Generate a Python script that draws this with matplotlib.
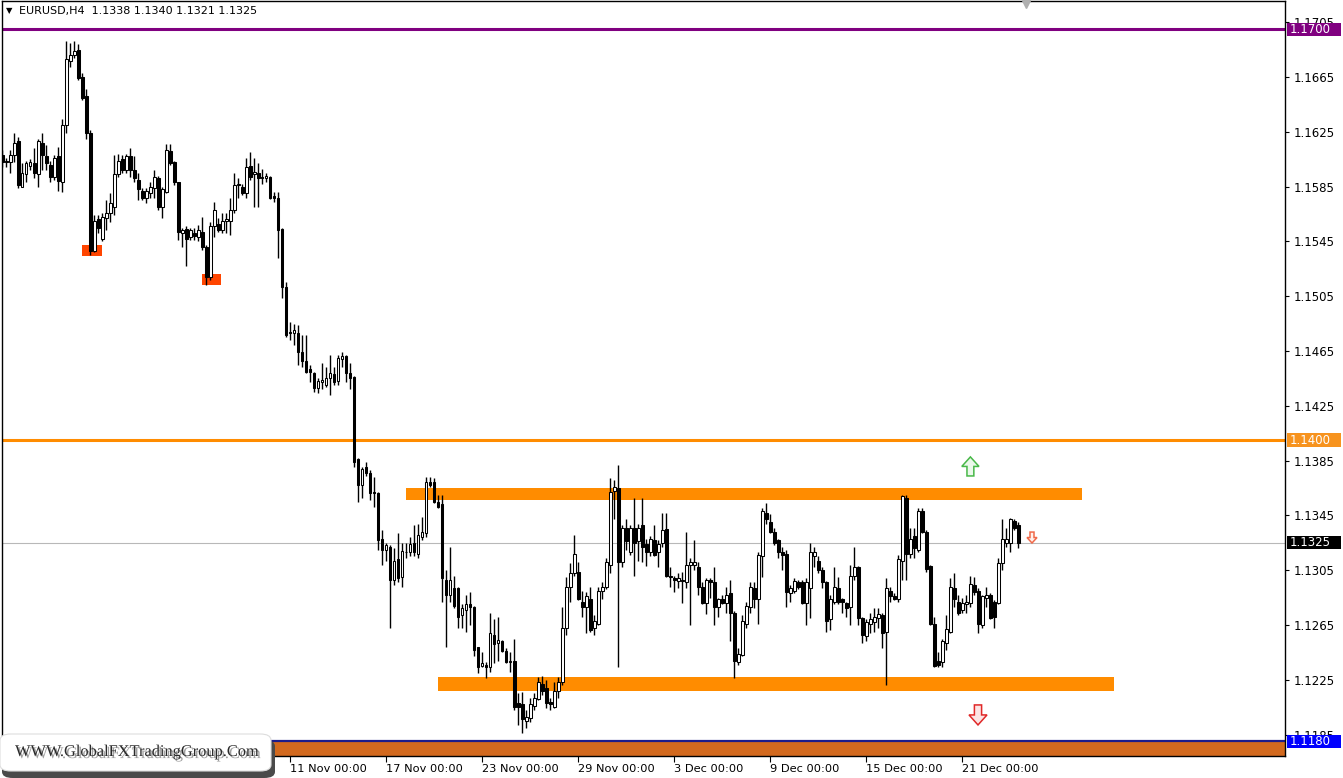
import numpy as np
import matplotlib
matplotlib.use("Agg")
import matplotlib.pyplot as plt
import matplotlib.transforms as mtransforms
import matplotlib.patheffects as pe
from matplotlib.patches import Rectangle, FancyBboxPatch, Polygon

plt.rcParams["font.family"] = ["DejaVu Sans"]

# EURUSD H4 candles
opens = [
    1.1608, 1.1604, 1.1603, 1.1608, 1.1618, 1.1585, 1.1594, 1.1600, 1.1602, 1.1594,
    1.1617, 1.1607, 1.1601, 1.1592, 1.1607, 1.1588, 1.1630, 1.1677, 1.1681, 1.1685,
    1.1665, 1.1651, 1.1624, 1.1538, 1.1561, 1.1547, 1.1562, 1.1566, 1.1570, 1.1594,
    1.1605, 1.1597, 1.1607, 1.1597, 1.1590, 1.1582, 1.1577, 1.1580, 1.1584, 1.1591,
    1.1570, 1.1581, 1.1611, 1.1603, 1.1588, 1.1551, 1.1554, 1.1548, 1.1551, 1.1548,
    1.1552, 1.1541, 1.1519, 1.1556, 1.1558, 1.1553, 1.1560, 1.1560, 1.1568, 1.1586,
    1.1585, 1.1580, 1.1600, 1.1594, 1.1595, 1.1592, 1.1591, 1.1592, 1.1578, 1.1577,
    1.1554, 1.1512, 1.1479, 1.1478, 1.1478, 1.1464, 1.1458, 1.1452, 1.1449, 1.1438,
    1.1442, 1.1440, 1.1445, 1.1448, 1.1443, 1.1459, 1.1461, 1.1449, 1.1446, 1.1386,
    1.1367, 1.1380, 1.1376, 1.1362, 1.1361, 1.1328, 1.1320, 1.1322, 1.1298, 1.1313,
    1.1300, 1.1318, 1.1318, 1.1325, 1.1317, 1.1329, 1.1332, 1.1369, 1.1369, 1.1355,
    1.1353, 1.1298, 1.1287, 1.1292, 1.1292, 1.1272, 1.1276, 1.1280, 1.1278, 1.1249,
    1.1235, 1.1236, 1.1234, 1.1258, 1.1252, 1.1253, 1.1246, 1.1238, 1.1239, 1.1208,
    1.1207, 1.1195, 1.1197, 1.1206, 1.1211, 1.1222, 1.1219, 1.1209, 1.1205, 1.1217,
    1.1223, 1.1263, 1.1293, 1.1303, 1.1304, 1.1282, 1.1278, 1.1284, 1.1263, 1.1266,
    1.1290, 1.1293, 1.1309, 1.1363, 1.1365, 1.1311, 1.1336, 1.1318, 1.1336, 1.1326,
    1.1338, 1.1324, 1.1318, 1.1327, 1.1318, 1.1325, 1.1335, 1.1301, 1.1299, 1.1297,
    1.1298, 1.1296, 1.1309, 1.1309, 1.1307, 1.1293, 1.1281, 1.1298, 1.1296, 1.1278,
    1.1284, 1.1281, 1.1288, 1.1274, 1.1238, 1.1243, 1.1266, 1.1278, 1.1292, 1.1284,
    1.1315, 1.1347, 1.1340, 1.1333, 1.1327, 1.1318, 1.1317, 1.1288, 1.1290, 1.1296,
    1.1296, 1.1281, 1.1292, 1.1315, 1.1312, 1.1305, 1.1296, 1.1269, 1.1282, 1.1292,
    1.1284, 1.1281, 1.1278, 1.1301, 1.1307, 1.1270, 1.1257, 1.1266, 1.1267, 1.1270,
    1.1272, 1.1260, 1.1290, 1.1286, 1.1284, 1.1312, 1.1358, 1.1317, 1.1330, 1.1320,
    1.1348, 1.1333, 1.1308, 1.1266, 1.1239, 1.1238, 1.1252, 1.1260, 1.1292, 1.1282,
    1.1276, 1.1280, 1.1281, 1.1294, 1.1290, 1.1265, 1.1285, 1.1287, 1.1282, 1.1281,
    1.1310, 1.1325, 1.1325, 1.1341, 1.1338,
]
highs = [
    1.1612, 1.1606, 1.1612, 1.1624, 1.1621, 1.1602, 1.1604, 1.1605, 1.1613, 1.1620,
    1.1624, 1.1615, 1.1604, 1.1608, 1.1614, 1.1634, 1.1691, 1.1690, 1.1691, 1.1689,
    1.1668, 1.1656, 1.1626, 1.1564, 1.1564, 1.1566, 1.1575, 1.1580, 1.1608, 1.1609,
    1.1608, 1.1609, 1.1613, 1.1607, 1.1595, 1.1584, 1.1584, 1.1588, 1.1597, 1.1593,
    1.1585, 1.1616, 1.1616, 1.1604, 1.1588, 1.1555, 1.1556, 1.1555, 1.1555, 1.1557,
    1.1563, 1.1542, 1.1559, 1.1574, 1.1562, 1.1566, 1.1566, 1.1577, 1.1595, 1.1591,
    1.1587, 1.1606, 1.1610, 1.1606, 1.1602, 1.1598, 1.1595, 1.1593, 1.1581, 1.1581,
    1.1555, 1.1515, 1.1486, 1.1485, 1.1484, 1.1477, 1.1477, 1.1455, 1.1450, 1.1445,
    1.1456, 1.1453, 1.1462, 1.1453, 1.1462, 1.1464, 1.1462, 1.1456, 1.1447, 1.1387,
    1.1380, 1.1384, 1.1378, 1.1373, 1.1362, 1.1334, 1.1325, 1.1323, 1.1321, 1.1332,
    1.1325, 1.1325, 1.1329, 1.1338, 1.1339, 1.1344, 1.1373, 1.1373, 1.1372, 1.1360,
    1.1360, 1.1305, 1.1322, 1.1301, 1.1293, 1.1280, 1.1287, 1.1289, 1.1279, 1.1249,
    1.1245, 1.1238, 1.1274, 1.1269, 1.1271, 1.1254, 1.1248, 1.1245, 1.1255, 1.1215,
    1.1216, 1.1203, 1.1212, 1.1215, 1.1227, 1.1228, 1.1225, 1.1212, 1.1223, 1.1227,
    1.1278, 1.1300, 1.1310, 1.1331, 1.1311, 1.1290, 1.1289, 1.1293, 1.1272, 1.1293,
    1.1296, 1.1314, 1.1372, 1.1371, 1.1382, 1.1338, 1.1342, 1.1338, 1.1358, 1.1339,
    1.1358, 1.1328, 1.1330, 1.1338, 1.1327, 1.1347, 1.1347, 1.1307, 1.1301, 1.1303,
    1.1304, 1.1333, 1.1314, 1.1327, 1.1311, 1.1296, 1.1299, 1.1299, 1.1307, 1.1285,
    1.1287, 1.1293, 1.1298, 1.1275, 1.1248, 1.1272, 1.1282, 1.1296, 1.1296, 1.1318,
    1.1350, 1.1354, 1.1346, 1.1336, 1.1328, 1.1322, 1.1320, 1.1294, 1.1299, 1.1298,
    1.1298, 1.1299, 1.1325, 1.1322, 1.1315, 1.1307, 1.1297, 1.1287, 1.1307, 1.1300,
    1.1285, 1.1282, 1.1309, 1.1322, 1.1308, 1.1271, 1.1269, 1.1274, 1.1277, 1.1277,
    1.1274, 1.1299, 1.1293, 1.1288, 1.1316, 1.1360, 1.1360, 1.1336, 1.1336, 1.1350,
    1.1350, 1.1334, 1.1309, 1.1271, 1.1245, 1.1255, 1.1272, 1.1299, 1.1303, 1.1287,
    1.1285, 1.1287, 1.1301, 1.1300, 1.1292, 1.1287, 1.1293, 1.1288, 1.1283, 1.1314,
    1.1342, 1.1336, 1.1343, 1.1342, 1.1340,
]
lows = [
    1.1599, 1.1599, 1.1595, 1.1603, 1.1584, 1.1585, 1.1588, 1.1597, 1.1591, 1.1585,
    1.1597, 1.1597, 1.1588, 1.1590, 1.1582, 1.1581, 1.1624, 1.1672, 1.1679, 1.1663,
    1.1648, 1.1620, 1.1535, 1.1537, 1.1551, 1.1545, 1.1553, 1.1559, 1.1564, 1.1592,
    1.1595, 1.1595, 1.1592, 1.1588, 1.1575, 1.1575, 1.1573, 1.1577, 1.1577, 1.1568,
    1.1562, 1.1580, 1.1601, 1.1586, 1.1546, 1.1541, 1.1527, 1.1546, 1.1546, 1.1545,
    1.1539, 1.1513, 1.1517, 1.1548, 1.1552, 1.1551, 1.1551, 1.1550, 1.1566, 1.1577,
    1.1579, 1.1577, 1.1590, 1.1570, 1.1570, 1.1587, 1.1588, 1.1576, 1.1574, 1.1533,
    1.1504, 1.1475, 1.1473, 1.1469, 1.1455, 1.1453, 1.1449, 1.1442, 1.1435, 1.1434,
    1.1437, 1.1439, 1.1433, 1.1440, 1.1440, 1.1453, 1.1442, 1.1437, 1.1380, 1.1355,
    1.1358, 1.1374, 1.1356, 1.1351, 1.1320, 1.1309, 1.1312, 1.1263, 1.1294, 1.1296,
    1.1293, 1.1314, 1.1315, 1.1315, 1.1314, 1.1327, 1.1329, 1.1366, 1.1354, 1.1350,
    1.1282, 1.1249, 1.1282, 1.1277, 1.1263, 1.1263, 1.1260, 1.1265, 1.1242, 1.1230,
    1.1234, 1.1226, 1.1231, 1.1237, 1.1239, 1.1245, 1.1237, 1.1231, 1.1203, 1.1192,
    1.1186, 1.1190, 1.1194, 1.1203, 1.1210, 1.1214, 1.1204, 1.1203, 1.1204, 1.1212,
    1.1221, 1.1258, 1.1282, 1.1301, 1.1283, 1.1271, 1.1259, 1.1260, 1.1258, 1.1265,
    1.1284, 1.1291, 1.1303, 1.1342, 1.1234, 1.1307, 1.1320, 1.1316, 1.1301, 1.1312,
    1.1311, 1.1308, 1.1315, 1.1315, 1.1307, 1.1322, 1.1300, 1.1293, 1.1289, 1.1292,
    1.1281, 1.1292, 1.1265, 1.1305, 1.1287, 1.1280, 1.1273, 1.1285, 1.1265, 1.1271,
    1.1280, 1.1274, 1.1253, 1.1226, 1.1236, 1.1242, 1.1263, 1.1274, 1.1277, 1.1266,
    1.1300, 1.1339, 1.1332, 1.1323, 1.1314, 1.1305, 1.1278, 1.1282, 1.1288, 1.1291,
    1.1280, 1.1265, 1.1270, 1.1307, 1.1303, 1.1292, 1.1260, 1.1261, 1.1280, 1.1280,
    1.1274, 1.1271, 1.1265, 1.1298, 1.1265, 1.1252, 1.1253, 1.1259, 1.1260, 1.1263,
    1.1248, 1.1221, 1.1282, 1.1283, 1.1282, 1.1298, 1.1298, 1.1314, 1.1314, 1.1318,
    1.1332, 1.1304, 1.1265, 1.1234, 1.1234, 1.1234, 1.1247, 1.1259, 1.1278, 1.1272,
    1.1274, 1.1274, 1.1278, 1.1287, 1.1259, 1.1263, 1.1278, 1.1269, 1.1263, 1.1280,
    1.1305, 1.1322, 1.1318, 1.1334, 1.1321,
]
closes = [
    1.1603, 1.1603, 1.1608, 1.1617, 1.1586, 1.1595, 1.1602, 1.1603, 1.1595, 1.1618,
    1.1608, 1.1602, 1.1592, 1.1606, 1.1589, 1.1630, 1.1678, 1.1681, 1.1684, 1.1664,
    1.1650, 1.1624, 1.1538, 1.1560, 1.1555, 1.1563, 1.1566, 1.1573, 1.1594, 1.1604,
    1.1597, 1.1607, 1.1597, 1.1591, 1.1583, 1.1577, 1.1582, 1.1585, 1.1592, 1.1570,
    1.1583, 1.1612, 1.1602, 1.1588, 1.1552, 1.1553, 1.1547, 1.1553, 1.1549, 1.1553,
    1.1541, 1.1519, 1.1556, 1.1568, 1.1553, 1.1560, 1.1561, 1.1568, 1.1586, 1.1587,
    1.1580, 1.1599, 1.1592, 1.1596, 1.1591, 1.1591, 1.1593, 1.1577, 1.1577, 1.1553,
    1.1512, 1.1477, 1.1478, 1.1480, 1.1464, 1.1458, 1.1450, 1.1450, 1.1438, 1.1443,
    1.1444, 1.1445, 1.1449, 1.1442, 1.1460, 1.1461, 1.1449, 1.1445, 1.1384, 1.1367,
    1.1379, 1.1376, 1.1361, 1.1361, 1.1327, 1.1320, 1.1323, 1.1298, 1.1312, 1.1299,
    1.1319, 1.1318, 1.1324, 1.1318, 1.1331, 1.1333, 1.1369, 1.1367, 1.1355, 1.1351,
    1.1299, 1.1287, 1.1298, 1.1279, 1.1271, 1.1277, 1.1280, 1.1278, 1.1247, 1.1234,
    1.1237, 1.1234, 1.1259, 1.1251, 1.1254, 1.1246, 1.1238, 1.1239, 1.1205, 1.1205,
    1.1196, 1.1198, 1.1207, 1.1212, 1.1223, 1.1217, 1.1208, 1.1207, 1.1217, 1.1223,
    1.1263, 1.1293, 1.1303, 1.1317, 1.1284, 1.1278, 1.1286, 1.1261, 1.1268, 1.1290,
    1.1293, 1.1311, 1.1362, 1.1366, 1.1311, 1.1336, 1.1326, 1.1336, 1.1325, 1.1336,
    1.1322, 1.1318, 1.1328, 1.1316, 1.1324, 1.1334, 1.1301, 1.1300, 1.1298, 1.1299,
    1.1297, 1.1309, 1.1311, 1.1311, 1.1293, 1.1281, 1.1298, 1.1296, 1.1278, 1.1284,
    1.1281, 1.1287, 1.1274, 1.1239, 1.1244, 1.1268, 1.1279, 1.1293, 1.1284, 1.1316,
    1.1348, 1.1342, 1.1333, 1.1325, 1.1318, 1.1316, 1.1289, 1.1292, 1.1297, 1.1293,
    1.1281, 1.1296, 1.1318, 1.1318, 1.1305, 1.1296, 1.1268, 1.1284, 1.1293, 1.1282,
    1.1282, 1.1277, 1.1301, 1.1307, 1.1270, 1.1258, 1.1267, 1.1269, 1.1271, 1.1273,
    1.1259, 1.1292, 1.1286, 1.1284, 1.1313, 1.1359, 1.1317, 1.1328, 1.1321, 1.1348,
    1.1333, 1.1306, 1.1266, 1.1235, 1.1236, 1.1253, 1.1262, 1.1293, 1.1284, 1.1274,
    1.1281, 1.1282, 1.1295, 1.1289, 1.1266, 1.1286, 1.1287, 1.1270, 1.1271, 1.1310,
    1.1328, 1.1328, 1.1342, 1.1336, 1.1325,
]

# time axis labels (bar index -> label)
time_ticks = [72, 96, 120, 144, 168, 192, 216, 240]
time_labels = ["11 Nov 00:00", "17 Nov 00:00", "23 Nov 00:00", "29 Nov 00:00",
               "3 Dec 00:00", "9 Dec 00:00", "15 Dec 00:00", "21 Dec 00:00"]
price_ticks = [1.1185, 1.1225, 1.1265, 1.1305, 1.1345, 1.1385, 1.1425,
               1.1465, 1.1505, 1.1545, 1.1585, 1.1625, 1.1665, 1.1705]

# horizontal levels: (price, line colour, label box colour)
levels = [(1.1700, "#800080", "#800080"),
          (1.1400, "#FF8C00", "#F7931E"),
          (1.1180, "#1C1C8A", "#0000FF")]
last_price = 1.1325
# range zones: (bar from, bar to, price low, price high)
range_zones = [(100.9, 269.9, 1.1356, 1.1365),
               (108.9, 277.9, 1.1217, 1.1227)]
swing_marks = [(19.9, 24.9, 1.1534, 1.1542),
               (49.9, 54.7, 1.1513, 1.1521)]
# signal arrows: (bar, price, direction, width in bars, height in price, edge, face)
signal_arrows = [(242.0, 1.13807, 1, 4.3, 0.00139, "#48B848", "#EAF8EA"),
                 (243.9, 1.11993, -1, 4.5, 0.00146, "#E02828", "#FCE4E4"),
                 (257.4, 1.13288, -1, 2.5, 0.00080, "#F06A4A", "#FFF0EC")]

W, H = 1343, 778
fig = plt.figure(figsize=(W / 100, H / 100), dpi=100)
ax = fig.add_axes([2 / W, 22 / H, 1283 / W, 755 / H])

y_top = 1.17212 - 0.000073 * 1
y_bot = 1.17212 - 0.000073 * 756
ax.set_xlim(-0.1, -0.1 + 1283 / 4)
ax.set_ylim(y_bot, y_top)

o = np.array(opens)
h = np.array(highs)
l = np.array(lows)
c = np.array(closes)
idx = np.arange(len(o))
h = np.maximum(h, np.maximum(o, c))
l = np.minimum(l, np.minimum(o, c))

# background levels and zones
ax.axhspan(y_bot, 1.1180, color="#D2691E", lw=0, zorder=1)
for price, lc, _ in levels:
    ax.axhline(price, color=lc, lw=2.2 if price != 1.1180 else 1.6, zorder=1.5)
ax.axhline(last_price, color="#B8B8B8", lw=0.8, zorder=1.5)
for x0, x1, p0, p1 in range_zones:
    ax.add_patch(Rectangle((x0, p0), x1 - x0, p1 - p0, color="#FF8C00", lw=0, zorder=2))
for x0, x1, p0, p1 in swing_marks:
    ax.add_patch(Rectangle((x0, p0), x1 - x0, p1 - p0, color="#FF4500", lw=0, zorder=2))

# candles
ax.vlines(idx, l, h, color="black", lw=1.0, zorder=3)
body_lo = np.minimum(o, c)
body_h = np.abs(c - o)
faces = np.where(c >= o, "white", "black")
ax.bar(idx, body_h, bottom=body_lo, width=0.55, color=faces,
       edgecolor="black", linewidth=0.75, zorder=4)

# hollow block arrows
shape = [(0, 0.5), (0.5, 0.0), (0.2, 0.0), (0.2, -0.5), (-0.2, -0.5), (-0.2, 0.0), (-0.5, 0.0)]
for bx, py, d, aw, ah, ec, fc in signal_arrows:
    pts = [(bx + sx * aw, py + d * sy * ah) for sx, sy in shape]
    ax.add_patch(Polygon(pts, closed=True, fc=fc, ec=ec, lw=1.1, zorder=5))

# axes styling
for s in ax.spines.values():
    s.set_color("black")
    s.set_linewidth(1.0)
ax.yaxis.tick_right()
ax.set_yticks(price_ticks)
ax.set_yticklabels([f"{p:.4f}" for p in price_ticks])
ax.tick_params(axis="y", direction="out", length=3, width=0.8, pad=3,
               labelsize=8.5, colors="black")
ax.set_xticks(time_ticks)
ax.set_xticklabels(time_labels)
ax.tick_params(axis="x", direction="out", length=4, width=0.8, pad=2,
               labelsize=8.2, colors="black")
for lab in ax.get_xticklabels():
    lab.set_horizontalalignment("left")

# coloured price labels on the right scale
trans = mtransforms.blended_transform_factory(ax.transAxes, ax.transData)
box_h = 13 * 0.000073
for price, _, bc in levels + [(last_price, None, "black")]:
    ax.add_patch(Rectangle((1.0 + 1.5 / 1283, price - box_h / 2), 54 / 1283, box_h,
                           transform=trans, color=bc, lw=0, clip_on=False, zorder=6))
    ax.text(1.0 + 5 / 1283, price, f"{price:.4f}", transform=trans, color="white",
            fontsize=8.5, ha="left", va="center", clip_on=False, zorder=7)

# header
ax.text(4 / 1283, 1 - 10 / 755, "\u25bc", transform=ax.transAxes, fontsize=6,
        va="center", ha="left", zorder=7)
ax.text(17 / 1283, 1 - 10 / 755,
        f"EURUSD,H4  {o[-1]:.4f} {h[-1]:.4f} {l[-1]:.4f} {c[-1]:.4f}",
        transform=ax.transAxes, fontsize=8, va="center", ha="left", zorder=7)
ax.plot([1024 / 1283], [1 - 3 / 755], marker="v", color="#B0B0B0", markersize=6,
        transform=ax.transAxes, clip_on=False, zorder=7)

# watermark box bottom left
shadow = FancyBboxPatch((2 / W, 1 - 778 / H), 273 / W, 38 / H,
                        boxstyle="round,pad=0,rounding_size=0.008",
                        transform=fig.transFigure, fc="#4A4A4A", ec="none", zorder=10)
box = FancyBboxPatch((0 / W, 1 - 771 / H), 271 / W, 37 / H,
                     boxstyle="round,pad=0,rounding_size=0.008",
                     transform=fig.transFigure, fc="white", ec="#DDDDDD", lw=0.8, zorder=11)
fig.add_artist(shadow)
fig.add_artist(box)
fig.text(15 / W, 1 - 752 / H, "WWW.GlobalFXTradingGroup.Com", fontsize=11.8,
         family=["Liberation Serif", "DejaVu Serif"], color="#2A2A2A",
         va="center", ha="left", zorder=12,
         path_effects=[pe.SimplePatchShadow(offset=(1.5, -1.5), shadow_rgbFace="#777777", alpha=0.7),
                       pe.Normal()])

fig.savefig("out.png", dpi=100, facecolor="white")
